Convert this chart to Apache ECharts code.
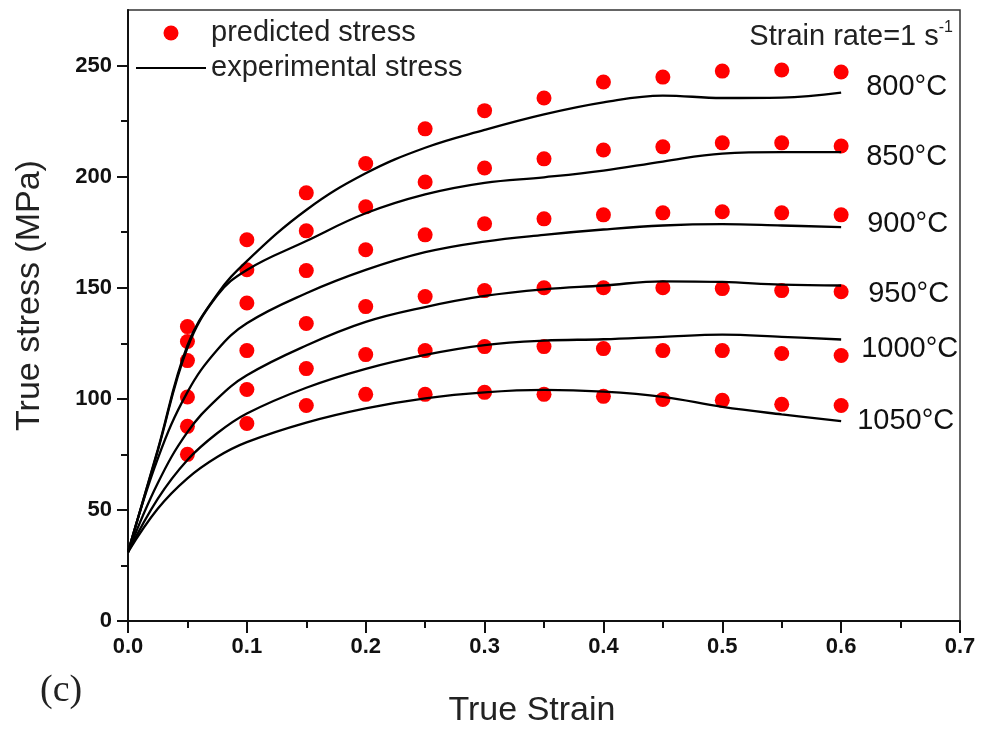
<!DOCTYPE html>
<html>
<head>
<meta charset="utf-8">
<title>True stress vs true strain</title>
<script src="https://cdn.jsdelivr.net/npm/echarts@6/dist/echarts.min.js"></script>
<style>
  html, body { margin: 0; padding: 0; background: #ffffff; }
  #chart { width: 988px; height: 733px; }
</style>
</head>
<body>
<div id="chart"></div>
<script>
// Strain sampling of the measured flow curves
const expStrain = [0, 0.025, 0.05, 0.075, 0.1, 0.15, 0.2, 0.25, 0.3, 0.35, 0.4, 0.45, 0.5, 0.55, 0.6];
// Strain values where the model prediction is evaluated
const predStrain = [0.05, 0.1, 0.15, 0.2, 0.25, 0.3, 0.35, 0.4, 0.45, 0.5, 0.55, 0.6];

const temperatures = ['800°C', '850°C', '900°C', '950°C', '1000°C', '1050°C'];

// Experimental stress (MPa)
const exp800  = [31, 77, 124, 147, 162, 185, 201.5, 213, 221, 228, 233.4, 236.5, 235.4, 235.6, 237.8];
const exp850  = [31, 76.5, 123, 146.5, 158, 171, 183.5, 192, 197.2, 199.7, 202.7, 206.8, 210.4, 211, 211];
const exp900  = [31, 73, 103, 122, 134, 147.5, 158, 166, 170.8, 173.8, 176.2, 178, 178.6, 178, 177.3];
const exp950  = [31, 62, 85, 100, 110.6, 124, 134.6, 141.3, 146.3, 149.3, 151, 152.9, 152.6, 151.4, 151];
const exp1000 = [31, 55, 72.5, 84.5, 93.4, 105, 113.5, 119.8, 124.2, 126.2, 126.8, 127.9, 128.9, 127.9, 126.7];
const exp1050 = [31, 50.5, 64.2, 73.8, 80.5, 89.3, 95.7, 100.2, 102.9, 104, 103.2, 100.9, 96.4, 93, 90];

// Predicted stress (MPa)
const pred800  = [132.5, 171.6, 192.7, 205.9, 221.5, 229.7, 235.4, 242.6, 244.8, 247.5, 248.0, 247.1];
const pred850  = [125.8, 158.1, 175.6, 186.4, 197.6, 203.9, 208.0, 212.0, 213.4, 215.2, 215.2, 213.8];
const pred900  = [117.2, 143.1, 157.7, 167.1, 173.8, 178.8, 181.0, 182.8, 183.7, 184.2, 183.7, 182.8];
const pred950  = [100.8, 121.7, 133.9, 141.5, 146.0, 148.7, 150.0, 150.0, 150.0, 149.6, 148.7, 148.2];
const pred1000 = [87.6, 104.2, 113.6, 119.9, 121.7, 123.5, 123.5, 122.6, 121.7, 121.7, 120.4, 119.5];
const pred1050 = [75.0, 88.9, 97.0, 102.0, 102.0, 102.9, 102.0, 101.1, 99.7, 99.3, 97.5, 97.0];

const yMajorTicks = [0, 50, 100, 150, 200, 250];
const yMinorTicks = [25, 75, 125, 175, 225];

const expCurves = [exp800, exp850, exp900, exp950, exp1000, exp1050];
const predCurves = [pred800, pred850, pred900, pred950, pred1000, pred1050];

// Pixel nudges for the temperature tags at the curve ends
const tagOffsets = [[25, -6], [25, 5], [26, -3], [27, 8], [20, 10], [16, 0]];

const SANS = '"Liberation Sans", Arial, sans-serif';

const zip = (xs, ys) => xs.map((x, i) => [x, ys[i]]);

const scatterSeries = predCurves.map(vals => ({
  name: 'predicted stress',
  type: 'scatter',
  data: zip(predStrain, vals),
  symbol: 'circle',
  symbolSize: 15,
  itemStyle: { color: '#ff0000', opacity: 1 },
  z: 2
}));

const lineSeries = expCurves.map((vals, i) => ({
  name: 'experimental stress',
  type: 'line',
  data: zip(expStrain, vals),
  smooth: 0.4,
  symbol: 'none',
  lineStyle: { color: '#000000', width: 2.3 },
  itemStyle: { color: '#000000' },
  z: 3,
  endLabel: {
    show: true,
    formatter: temperatures[i],
    distance: 0,
    offset: tagOffsets[i],
    fontFamily: SANS,
    fontSize: 29,
    color: '#111111'
  }
}));

const chart = echarts.init(document.getElementById('chart'));
chart.setOption({
  animation: false,
  backgroundColor: '#ffffff',
  grid: {
    left: 128, right: 28, top: 10, bottom: 111,
    show: true, borderColor: '#333333', borderWidth: 1.5,
    containLabel: false
  },
  legend: {
    data: [
      { name: 'predicted stress' },
      { name: 'experimental stress', itemStyle: { opacity: 0 } }
    ],
    orient: 'vertical',
    left: 130, top: 13,
    itemWidth: 70, itemHeight: 15, itemGap: 5,
    selectedMode: false,
    textStyle: { fontFamily: SANS, fontSize: 29, color: '#222222', lineHeight: 30, padding: [0, 0, 0, 0] }
  },
  xAxis: {
    type: 'value',
    min: 0, max: 0.7, interval: 0.1,
    name: 'True Strain',
    nameLocation: 'middle',
    nameGap: 73,
    nameTextStyle: { fontFamily: SANS, fontSize: 34, color: '#222222', padding: [0, 24, 0, 0] },
    axisLine: { show: true, onZero: false, lineStyle: { color: '#111111', width: 2 } },
    axisTick: { show: true, length: 12, lineStyle: { color: '#111111', width: 2 } },
    minorTick: { show: true, splitNumber: 2, length: 7, lineStyle: { color: '#111111', width: 2 } },
    axisLabel: {
      margin: 15, fontFamily: SANS, fontWeight: 'bold', fontSize: 22, color: '#111111',
      formatter: v => v.toFixed(1)
    },
    splitLine: { show: false }
  },
  yAxis: [
    {
      type: 'value',
      min: 0, max: 275, interval: 50,
      name: 'True stress (MPa)',
      nameLocation: 'middle',
      nameGap: 81,
      nameTextStyle: { fontFamily: SANS, fontSize: 34, color: '#222222', padding: [0, 0, 0, 40] },
      axisLine: { show: true, onZero: false, lineStyle: { color: '#111111', width: 2 } },
      axisTick: { show: true, length: 11, customValues: yMajorTicks, lineStyle: { color: '#111111', width: 2 } },
      axisLabel: {
        margin: 16, fontFamily: SANS, fontWeight: 'bold', fontSize: 22, color: '#111111',
        customValues: yMajorTicks
      },
      splitLine: { show: false }
    },
    {
      type: 'value',
      min: 0, max: 275,
      position: 'left',
      axisLine: { show: false },
      axisTick: { show: true, length: 7, customValues: yMinorTicks, lineStyle: { color: '#111111', width: 2 } },
      axisLabel: { show: false },
      splitLine: { show: false }
    }
  ],
  graphic: [
    {
      type: 'text',
      right: 35, top: 20,
      style: {
        text: '{a|Strain rate=1 s}{b|-1}',
        rich: {
          a: { fontFamily: SANS, fontSize: 29, lineHeight: 34, fill: '#222222' },
          b: { fontFamily: SANS, fontSize: 16, lineHeight: 16, fill: '#222222', verticalAlign: 'top' }
        }
      }
    },
    {
      type: 'text',
      left: 40, top: 672,
      style: { text: '(c)', font: '38px "Liberation Serif", "Times New Roman", serif', fill: '#222222' }
    }
  ],
  series: [...scatterSeries, ...lineSeries]
});
</script>
</body>
</html>
